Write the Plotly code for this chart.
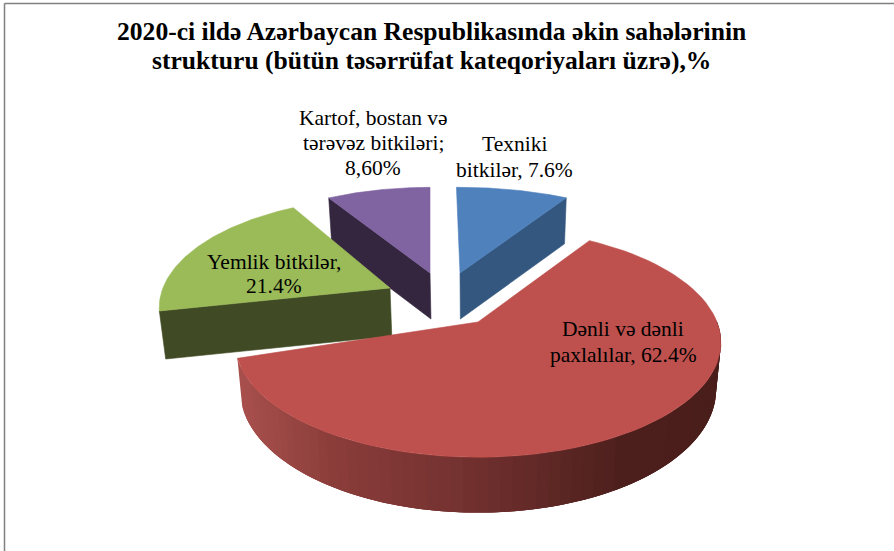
import numpy as np
import plotly.graph_objects as go

categories = ["Texniki bitkilər", "Dənli və dənli paxlalılar", "Yemlik bitkilər", "Kartof, bostan və tərəvəz bitkiləri"]
values = [7.6, 62.4, 21.4, 8.6]
value_labels = ["7.6%", "62.4%", "21.4%", "8,60%"]
title_lines = ["2020-ci ildə Azərbaycan Respublikasında əkin sahələrinin",
               "strukturu (bütün təsərrüfat kateqoriyaları üzrə),%"]

W, H = 894, 551
FX, FY, B = 239.0, 111.0, 0.179
VX = 478.0

# per-slice view: apex pixel, scale x/y, start/end angular warp, extrusion, top colour, side colour
view = {
    0: dict(ax=460, ay=273, sx=1.0, sy=0.91, d0=-1.0, d1=3.5, h=46, top="#4f81bd", side="#345780"),
    1: dict(ax=478, ay=322, sx=1.0, sy=1.0, d0=5.1, d1=0.0, h=45.5, top="#be504d", side=None),
    2: dict(ax=390, ay=288, sx=0.95, sy=0.96, d0=6.0, d1=1.5, h=48, top="#9bbb59", side="#404a24"),
    3: dict(ax=430, ay=273, sx=0.95, sy=0.91, d0=0.0, d1=0.0, h=46, top="#8063a1", side="#35263f"),
}

fractions = np.array(values) / sum(values)
ends = np.cumsum(fractions) * 360.0
starts = ends - fractions * 360.0


def project(i, t_deg):
    v = view[i]
    t = np.radians(t_deg)
    d = 1 + B * np.cos(t)
    return v["ax"] + v["sx"] * FX * np.sin(t) / d, v["ay"] - v["sy"] * FY * np.cos(t) / d, d


def warp(i, t):
    v = view[i]
    u = (t - starts[i]) / (ends[i] - starts[i])
    return t + v["d0"] * (1 - u) + v["d1"] * u


def lower(i, x, y, d):
    return x + (VX - x) * 0.02, y + view[i]["h"] * (1.0 / d if i == 1 else 1.0)


def poly(xs, ys, color, name, lw=0.6):
    return go.Scatter(x=list(xs), y=list(ys), mode="lines", fill="toself", fillcolor=color,
                      line=dict(color=color, width=lw), hoverinfo="text", text=name, showlegend=False)


fig = go.Figure()


def top_face(i):
    ts = warp(i, np.linspace(starts[i], ends[i], 80))
    x, y, _ = project(i, ts)
    v = view[i]
    return poly(np.r_[v["ax"], x, v["ax"]], np.r_[v["ay"], y, v["ay"]], v["top"], categories[i])


def cut_face(i, t_val):
    v = view[i]
    x, y, d = project(i, warp(i, np.array([t_val])))
    xb, yb = lower(i, x[0], y[0], d[0])
    axb, ayb = lower(i, v["ax"], v["ay"], 1.0)
    return poly([v["ax"], x[0], xb, axb, v["ax"]], [v["ay"], y[0], yb, ayb, v["ay"]], v["side"], categories[i])


# back slices, back to front
fig.add_trace(cut_face(3, starts[3]))
fig.add_trace(top_face(3))
fig.add_trace(cut_face(2, starts[2]))
fig.add_trace(top_face(2))
fig.add_trace(cut_face(0, ends[0]))
fig.add_trace(top_face(0))

# red slice: outer wall with horizontal shading, overlapping strips so no seams show
stops_x = [240, 330, 480, 620, 720]
stops_rgb = np.array([[168, 80, 77], [140, 62, 59], [112, 48, 46], [78, 32, 29], [74, 30, 27]])
grid = warp(1, np.linspace(starts[1], ends[1], 90))
grid = grid[grid >= 88]
for j in range(len(grid) - 1, 0, -1):
    seg = np.linspace(grid[j], grid[max(j - 3, 0)], 6)
    xa, ya, da = project(1, seg)
    xb, yb = lower(1, xa, ya, da)
    mid_x = project(1, np.array([(grid[j] + grid[j - 1]) / 2]))[0][0]
    col = [int(np.interp(mid_x, stops_x, stops_rgb[:, k])) for k in range(3)]
    fig.add_trace(go.Scatter(x=list(np.r_[xa, xb[::-1], xa[0]]), y=list(np.r_[ya, yb[::-1], ya[0]]),
                             mode="none", fill="toself", fillcolor=f"rgb({col[0]},{col[1]},{col[2]})",
                             hoverinfo="text", text=categories[1], showlegend=False))
fig.add_trace(top_face(1))

# frame
fig.add_shape(type="line", x0=4.5, x1=894, y0=3.5, y1=3.5, line=dict(color="#808080", width=1.5))
fig.add_shape(type="line", x0=4.5, x1=4.5, y0=3.5, y1=551, line=dict(color="#808080", width=1.5))

SERIF = "Liberation Serif"
for line, y in zip(title_lines, [31, 60]):
    fig.add_annotation(x=431, y=y, text=f"<b>{line}</b>", showarrow=False,
                       font=dict(family=SERIF, size=25.6, color="#000000"))

labels = [
    (514, [144, 170], ["Texniki", f"bitkilər, {value_labels[0]}"]),
    (623, [329, 355], ["Dənli və dənli", f"paxlalılar, {value_labels[1]}"]),
    (274, [262, 286], ["Yemlik bitkilər,", value_labels[2]]),
    (373, [118, 143, 168], ["Kartof, bostan və", "tərəvəz bitkiləri;", value_labels[3]]),
]
for x, ys, lines in labels:
    for y, t in zip(ys, lines):
        fig.add_annotation(x=x, y=y, text=t, showarrow=False, align="center",
                           font=dict(family=SERIF, size=21.5, color="#000000"))

fig.update_xaxes(range=[0, W], visible=False, fixedrange=True)
fig.update_yaxes(range=[H, 0], visible=False, fixedrange=True)
fig.update_layout(width=W, height=H, margin=dict(l=0, r=0, t=0, b=0), paper_bgcolor="#ffffff",
                  plot_bgcolor="#ffffff", showlegend=False)
fig.write_html("out.html", post_script="document.body.style.margin='0';document.body.style.overflow='hidden';",
               config={"displayModeBar": False})
